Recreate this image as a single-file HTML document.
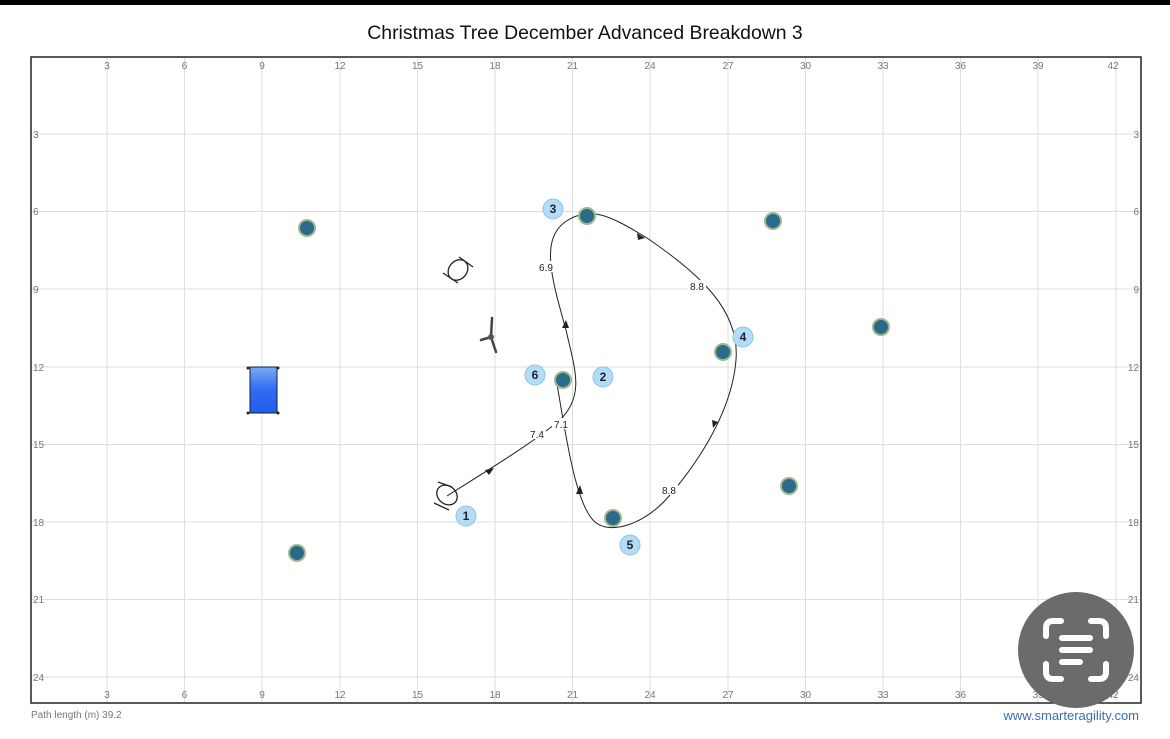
<!DOCTYPE html>
<html><head><meta charset="utf-8"><style>
html,body{margin:0;padding:0;background:#fff;width:1170px;height:739px;overflow:hidden}
svg{display:block;font-family:"Liberation Sans",sans-serif}
</style></head><body>
<svg width="1170" height="739" viewBox="0 0 1170 739">
<defs>
<linearGradient id="tg" x1="0" y1="0" x2="0" y2="1"><stop offset="0" stop-color="#7aa8f5"/><stop offset="0.5" stop-color="#2f6cf0"/><stop offset="1" stop-color="#1f5ef0"/></linearGradient>
</defs>
<rect x="0" y="0" width="1170" height="5" fill="#000"/>
<text x="585" y="39" font-size="19.4" text-anchor="middle" fill="#111">Christmas Tree December Advanced Breakdown 3</text>
<g stroke="#ddd" stroke-width="1">
<line x1="107" y1="57" x2="107" y2="703"/><line x1="184.5" y1="57" x2="184.5" y2="703"/><line x1="262" y1="57" x2="262" y2="703"/><line x1="340" y1="57" x2="340" y2="703"/><line x1="417.5" y1="57" x2="417.5" y2="703"/><line x1="495" y1="57" x2="495" y2="703"/><line x1="572.5" y1="57" x2="572.5" y2="703"/><line x1="650" y1="57" x2="650" y2="703"/><line x1="728" y1="57" x2="728" y2="703"/><line x1="805.5" y1="57" x2="805.5" y2="703"/><line x1="883" y1="57" x2="883" y2="703"/><line x1="960.5" y1="57" x2="960.5" y2="703"/><line x1="1038" y1="57" x2="1038" y2="703"/><line x1="1116" y1="57" x2="1116" y2="703"/>
<line x1="31" y1="134" x2="1141" y2="134"/><line x1="31" y1="211.5" x2="1141" y2="211.5"/><line x1="31" y1="289" x2="1141" y2="289"/><line x1="31" y1="367" x2="1141" y2="367"/><line x1="31" y1="444.5" x2="1141" y2="444.5"/><line x1="31" y1="522" x2="1141" y2="522"/><line x1="31" y1="599.5" x2="1141" y2="599.5"/><line x1="31" y1="677" x2="1141" y2="677"/>
</g>
<rect x="31" y="57" width="1110" height="646" fill="none" stroke="#222" stroke-width="1.5"/>
<g font-size="10" fill="#777" text-anchor="middle">
<text x="107" y="69">3</text><text x="184.5" y="69">6</text><text x="262" y="69">9</text><text x="340" y="69">12</text><text x="417.5" y="69">15</text><text x="495" y="69">18</text><text x="572.5" y="69">21</text><text x="650" y="69">24</text><text x="728" y="69">27</text><text x="805.5" y="69">30</text><text x="883" y="69">33</text><text x="960.5" y="69">36</text><text x="1038" y="69">39</text><text x="1113" y="69">42</text>
<text x="107" y="698">3</text><text x="184.5" y="698">6</text><text x="262" y="698">9</text><text x="340" y="698">12</text><text x="417.5" y="698">15</text><text x="495" y="698">18</text><text x="572.5" y="698">21</text><text x="650" y="698">24</text><text x="728" y="698">27</text><text x="805.5" y="698">30</text><text x="883" y="698">33</text><text x="960.5" y="698">36</text><text x="1038" y="698">39</text><text x="1113" y="698">42</text>
</g>
<g font-size="10" fill="#777">
<text x="33" y="138">3</text><text x="33" y="215">6</text><text x="33" y="293">9</text><text x="33" y="371">12</text><text x="33" y="448">15</text><text x="33" y="526">18</text><text x="33" y="603">21</text><text x="33" y="681">24</text>
<g text-anchor="end"><text x="1139" y="138">3</text><text x="1139" y="215">6</text><text x="1139" y="293">9</text><text x="1139" y="371">12</text><text x="1139" y="448">15</text><text x="1139" y="526">18</text><text x="1139" y="603">21</text><text x="1139" y="681">24</text></g>
</g>
<rect x="250" y="367" width="27" height="46" fill="url(#tg)" stroke="#123" stroke-width="1"/>
<g fill="#222"><circle cx="248" cy="368" r="1.5"/><circle cx="278" cy="368" r="1.5"/><circle cx="248" cy="413" r="1.5"/><circle cx="278" cy="413" r="1.5"/></g>
<g fill="none" stroke="#222" stroke-width="1.3">
<ellipse cx="458" cy="270" rx="9" ry="11" transform="rotate(40 458 270)"/>
<line x1="443" y1="273" x2="458" y2="283"/><line x1="459" y1="257" x2="473" y2="267"/>
<ellipse cx="447" cy="495" rx="9" ry="11" transform="rotate(-50 447 495)"/>
<line x1="438" y1="482" x2="452" y2="487"/><line x1="434" y1="503" x2="449" y2="510"/>
</g>
<g stroke="#444" stroke-width="2.5" stroke-linecap="round"><line x1="491" y1="337" x2="492" y2="318"/><line x1="491" y1="337" x2="481" y2="340"/><line x1="491" y1="337" x2="496" y2="352"/></g>
<circle cx="491" cy="337" r="3" fill="#555"/>
<path d="M447,496 C480,475 530,445 560,420 C585,395 575,370 566,330 C552,280 540,240 565,222 C590,205 610,215 650,240 C700,275 740,310 736,360 C732,410 700,460 670,495 C645,525 610,535 595,522 C575,505 565,430 556,378" fill="none" stroke="#222" stroke-width="1"/>
<g fill="#222">
<path d="M494,468 l-9,2 4,5 z"/>
<path d="M566,320 l-4,8 7,0 z"/>
<path d="M645,238 l-8,-5 1,7 z"/>
<path d="M713,428 l-1,-8 6,2 z"/>
<path d="M580,485 l-4,9 7,0 z"/>
</g>
<g font-size="10" fill="#222" text-anchor="middle">
<rect x="537" y="261" width="18" height="11" fill="#fff"/><text x="546" y="271">6.9</text>
<rect x="688" y="280" width="18" height="11" fill="#fff"/><text x="697" y="290">8.8</text>
<rect x="528" y="428" width="18" height="11" fill="#fff"/><text x="537" y="438">7.4</text>
<rect x="552" y="418" width="18" height="11" fill="#fff"/><text x="561" y="428">7.1</text>
<rect x="660" y="484" width="18" height="11" fill="#fff"/><text x="669" y="494">8.8</text>
</g>
<g stroke="#9cb98c" stroke-width="2" fill="#2a6b8a">
<circle cx="307" cy="228" r="8"/><circle cx="587" cy="216" r="8"/><circle cx="773" cy="221" r="8"/><circle cx="881" cy="327" r="8"/><circle cx="723" cy="352" r="8"/><circle cx="563" cy="380" r="8"/><circle cx="789" cy="486" r="8"/><circle cx="613" cy="518" r="8"/><circle cx="297" cy="553" r="8"/>
</g>
<g fill="#b3dcf7" stroke="#8cc3e8" stroke-width="1">
<circle cx="553" cy="209" r="10"/><circle cx="743" cy="337" r="10"/><circle cx="535" cy="375" r="10"/><circle cx="603" cy="377" r="10"/><circle cx="466" cy="516" r="10"/><circle cx="630" cy="545" r="10"/>
</g>
<g font-size="12" font-weight="bold" fill="#223" text-anchor="middle">
<text x="553" y="213">3</text><text x="743" y="341">4</text><text x="535" y="379">6</text><text x="603" y="381">2</text><text x="466" y="520">1</text><text x="630" y="549">5</text>
</g>
<text x="31" y="718" font-size="10" fill="#777">Path length (m) 39.2</text>
<text x="1139" y="720" font-size="13" fill="#3a6db5" text-anchor="end">www.smarteragility.com</text>
<circle cx="1076" cy="650" r="58" fill="#6b6b6b"/>
<g fill="none" stroke="#fff" stroke-width="6" stroke-linecap="round">
<path d="M1046,636 v-8 q0,-7 7,-7 h8"/><path d="M1091,621 h8 q7,0 7,7 v8"/><path d="M1046,664 v8 q0,7 7,7 h8"/><path d="M1106,664 v8 q0,7 -7,7 h-8"/>
<line x1="1062" y1="638" x2="1090" y2="638"/><line x1="1062" y1="650" x2="1090" y2="650"/><line x1="1062" y1="662" x2="1080" y2="662"/>
</g>
</svg>
</body></html>
